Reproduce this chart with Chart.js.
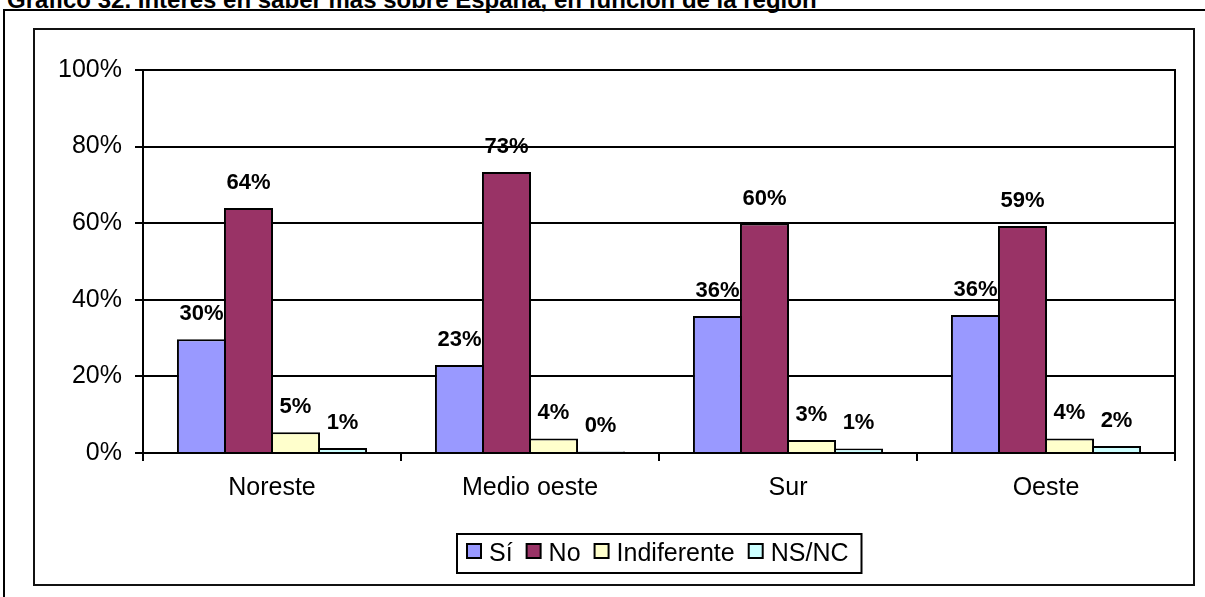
<!DOCTYPE html>
<html>
<head>
<meta charset="utf-8">
<script src="https://cdn.jsdelivr.net/npm/chart.js@4.4.1/dist/chart.umd.min.js"></script>
<style>
html,body{margin:0;padding:0;background:#fff;width:1205px;height:597px;overflow:hidden;position:relative;font-family:'Liberation Sans',Arial,sans-serif;}
#title{position:absolute;left:7px;top:-12px;font-weight:bold;font-size:24px;line-height:24px;white-space:nowrap;color:#000;}
#topline{position:absolute;left:3px;top:9px;width:1202px;height:2px;background:#000;}
#leftline{position:absolute;left:3px;top:9px;width:2px;height:600px;background:#000;}
#frame{position:absolute;left:33px;top:28px;width:1158px;height:554px;border:2px solid #111;}
#c{position:absolute;left:0;top:0;}
</style>
</head>
<body>
<div id="title">Gráfico 32. Interés en saber más sobre España, en función de la región</div>
<div id="topline"></div>
<div id="leftline"></div>
<div id="frame"></div>
<canvas id="c" width="1205" height="597"></canvas>
<script>
const categories = ['Noreste', 'Medio oeste', 'Sur', 'Oeste'];
const seriesNames = ['Sí', 'No', 'Indiferente', 'NS/NC'];
const si = [29.7, 23.0, 35.8, 36.0];
const no = [64.0, 73.4, 59.9, 59.3];
const indiferente = [5.4, 3.8, 3.4, 3.8];
const nsnc = [1.3, 0.4, 1.2, 1.8];
const yTickValues = [0, 20, 40, 60, 80, 100];
const colors = ['#9999FF', '#993366', '#FFFFCC', '#CCFFFF'];

const FONT = '"Liberation Sans", Arial, sans-serif';

const decor = {
  id: 'decor',
  afterDatasetsDraw(chart) {
    const ctx = chart.ctx;
    const a = chart.chartArea;
    ctx.save();
    ctx.strokeStyle = '#000';
    ctx.lineWidth = 2;
    ctx.beginPath();
    ctx.moveTo(a.right, a.top - 1);
    ctx.lineTo(a.right, a.bottom);
    ctx.stroke();
    ctx.font = 'bold 22px ' + FONT;
    ctx.fillStyle = '#000';
    ctx.textAlign = 'center';
    ctx.textBaseline = 'alphabetic';
    chart.data.datasets.forEach((ds, i) => {
      const meta = chart.getDatasetMeta(i);
      meta.data.forEach((bar, j) => {
        ctx.fillText(Math.round(ds.data[j]) + '%', bar.x, bar.y - 19);
      });
    });
    ctx.restore();
  },
  afterDraw(chart) {
    const ctx = chart.ctx;
    const a = chart.chartArea;
    ctx.save();
    ctx.font = '25px ' + FONT;
    const items = chart.data.datasets.map(d => ({
      label: d.label, color: d.backgroundColor, w: ctx.measureText(d.label).width
    }));
    const marker = 16, gapText = 7, gapItem = 13, padL = 10, padR = 14;
    const total = padL + padR + items.reduce((s, it) => s + marker + gapText + it.w, 0) + gapItem * (items.length - 1);
    const cx = (a.left + a.right) / 2;
    const x0 = Math.round(cx - total / 2);
    const top = 533, h = 41;
    ctx.fillStyle = '#fff';
    ctx.fillRect(x0, top, total, h);
    ctx.lineWidth = 2;
    ctx.strokeStyle = '#000';
    ctx.strokeRect(x0 + 1, top + 1, total - 2, h - 2);
    let x = x0 + padL;
    ctx.textAlign = 'left';
    ctx.textBaseline = 'alphabetic';
    items.forEach(it => {
      ctx.fillStyle = it.color;
      ctx.fillRect(x + 1, 544, 14, 14);
      ctx.strokeRect(x + 1, 544, 14, 14);
      ctx.fillStyle = '#000';
      ctx.fillText(it.label, x + marker + gapText, 561);
      x += marker + gapText + it.w + gapItem;
    });
    ctx.restore();
  }
};

const seriesValues = [si, no, indiferente, nsnc];

new Chart(document.getElementById('c'), {
  type: 'bar',
  data: {
    labels: categories,
    datasets: seriesNames.map((name, i) => ({
      label: name,
      data: seriesValues[i],
      backgroundColor: colors[i],
      borderColor: '#000',
      borderWidth: 2,
      borderSkipped: 'start',
      categoryPercentage: 0.729,
      barPercentage: 1.043
    }))
  },
  options: {
    responsive: false,
    animation: false,
    layout: { padding: { left: 0, top: 70, right: 30, bottom: 0 } },
    plugins: { legend: { display: false }, tooltip: { enabled: false } },
    scales: {
      x: {
        grid: { display: true, drawOnChartArea: false, drawTicks: true, tickLength: 8, color: '#000', lineWidth: 2, offset: true },
        border: { display: true, color: '#000', width: 2, z: 1 },
        ticks: { color: '#000', font: { family: FONT, size: 25 }, padding: 12, maxRotation: 0 },
        afterFit(scale) { scale.height = 144; }
      },
      y: {
        min: yTickValues[0],
        max: yTickValues[yTickValues.length - 1],
        afterBuildTicks(scale) { scale.ticks = yTickValues.map(v => ({ value: v })); },
        grid: { color: '#000', lineWidth: 2, drawTicks: true, tickLength: 8 },
        border: { display: true, color: '#000', width: 2 },
        ticks: { color: '#000', font: { family: FONT, size: 25 }, padding: 13, callback: v => v + '%' },
        afterFit(scale) { scale.width = 143; }
      }
    }
  },
  plugins: [decor]
});
</script>
</body>
</html>
